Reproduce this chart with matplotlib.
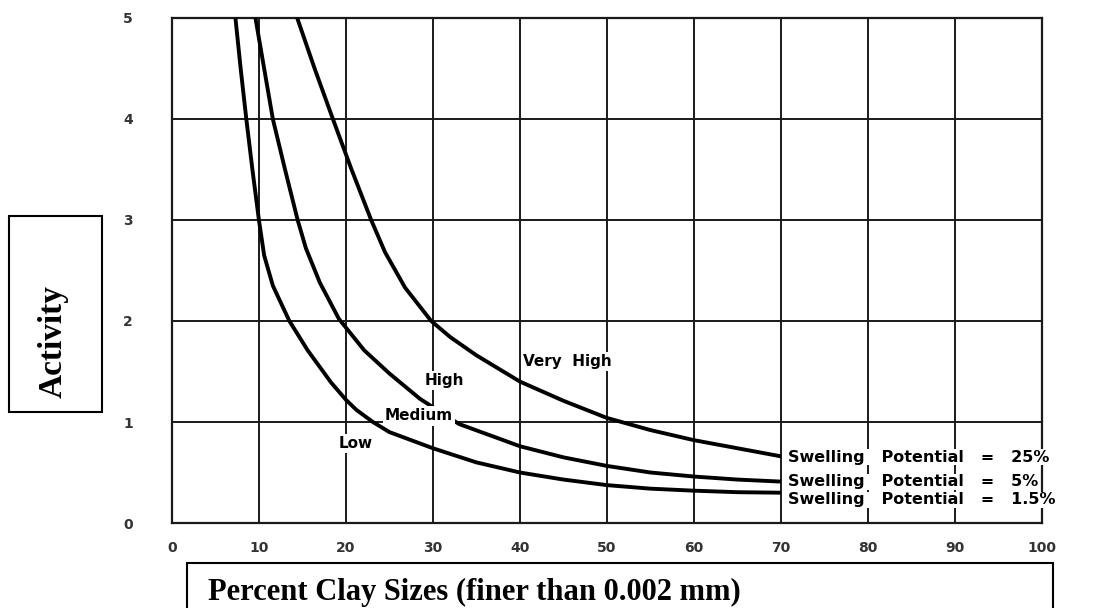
import matplotlib
matplotlib.use("Agg")
import matplotlib.pyplot as plt
from matplotlib.patches import Rectangle

# curve readings (percent clay, activity)
clay_25 = [14.4, 16.4, 18.5, 20.6, 22.9, 24.5, 26.8, 29.8, 32, 35, 40, 45, 50, 55, 60, 65, 70]
act_25 = [5.0, 4.5, 4.0, 3.51, 3.0, 2.68, 2.33, 2.0, 1.84, 1.66, 1.40, 1.21, 1.04, 0.92, 0.82, 0.74, 0.66]

clay_5 = [9.6, 10.6, 11.6, 13.0, 14.45, 15.4, 17.0, 19.2, 22.1, 25, 28.5, 33, 40, 45, 50, 55, 60, 65, 70]
act_5 = [5.0, 4.5, 4.0, 3.5, 3.0, 2.72, 2.38, 2.02, 1.71, 1.48, 1.23, 0.98, 0.76, 0.65, 0.565, 0.5, 0.46, 0.43, 0.41]

clay_15 = [7.3, 7.9, 8.55, 9.25, 10.0, 10.6, 11.6, 13.5, 15.6, 18.3, 20, 21.2, 23.1, 25, 30, 35, 40, 45, 50, 55, 60, 65, 70]
act_15 = [5.0, 4.5, 4.0, 3.5, 3.0, 2.65, 2.35, 2.0, 1.71, 1.39, 1.22, 1.12, 1.0, 0.9, 0.74, 0.6, 0.5, 0.43, 0.375, 0.34, 0.32, 0.305, 0.30]

zone_names = ["Very  High", "High", "Medium", "Low"]
zone_x = [45.5, 31.3, 28.4, 21.1]
zone_y = [1.6, 1.41, 1.06, 0.79]

swell_labels = ["Swelling   Potential   =   25%", "Swelling   Potential   =   5%", "Swelling   Potential   =   1.5%"]
swell_y = [0.65, 0.41, 0.23]

x_ticks = [0, 10, 20, 30, 40, 50, 60, 70, 80, 90, 100]
y_ticks = [0, 1, 2, 3, 4, 5]

fig = plt.figure(figsize=(10.95, 6.08), dpi=100)
ax = fig.add_axes([0.157, 0.1398, 0.7946, 0.8306])

ax.set_xlim(0, 100)
ax.set_ylim(0, 5)
ax.set_xticks(x_ticks)
ax.set_yticks(y_ticks)
ax.set_xticklabels([str(t) for t in x_ticks], fontsize=10, fontweight="bold", color="#333333")
ax.set_yticklabels([str(t) for t in y_ticks], fontsize=10, fontweight="bold", color="#333333")
ax.tick_params(axis="both", length=0)
ax.tick_params(axis="x", pad=13)
ax.tick_params(axis="y", pad=28)
ax.grid(True, color="#1a1a1a", linewidth=1.4)
ax.set_axisbelow(True)
for s in ax.spines.values():
    s.set_linewidth(1.6)
    s.set_color("#1a1a1a")

for xs, ys in [(clay_25, act_25), (clay_5, act_5), (clay_15, act_15)]:
    ax.plot(xs, ys, color="black", linewidth=2.8, solid_capstyle="butt",
            solid_joinstyle="round", zorder=3, clip_on=False)

# zone names with white backgrounds that break the grid
for name, x, y in zip(zone_names, zone_x, zone_y):
    ax.text(x, y, name, ha="center", va="center", fontsize=11, fontweight="bold",
            bbox=dict(facecolor="white", edgecolor="none", pad=1.5), zorder=4)

for lab, y in zip(swell_labels, swell_y):
    ax.text(70.8, y, lab, ha="left", va="center", fontsize=11.5, fontweight="bold",
            bbox=dict(facecolor="white", edgecolor="none", pad=0.3), zorder=4, clip_on=False)

# boxed axis titles
fig.patches.append(Rectangle((0.0082, 0.3224), 0.0849, 0.3224, transform=fig.transFigure,
                             fill=False, edgecolor="black", linewidth=1.5))
fig.text(0.0484, 0.4375, "Activity", rotation=90, ha="center", va="center",
         fontsize=24, fontweight="bold", family="Liberation Serif")

fig.patches.append(Rectangle((0.1708, -0.1), 0.7908, 0.174, transform=fig.transFigure,
                             fill=False, edgecolor="black", linewidth=1.5))
fig.text(0.19, 0.013, "Percent Clay Sizes (finer than 0.002 mm)", ha="left", va="baseline",
         fontsize=22, fontweight="bold", family="Liberation Serif")

fig.savefig("out.png", dpi=100)
